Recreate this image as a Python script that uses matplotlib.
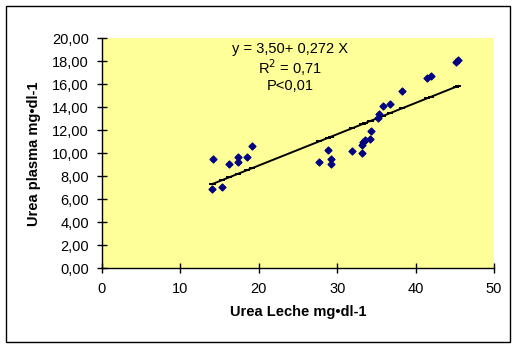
import numpy as np
import matplotlib
matplotlib.use("Agg")
import matplotlib.pyplot as plt
from matplotlib.patches import Rectangle

plt.rcParams.update({
    "font.family": ["Liberation Sans", "DejaVu Sans"],
    "font.size": 10,
})

# data
urea_leche = [14.14, 14.05, 15.32, 16.22, 17.32, 17.32, 18.51, 19.15,
              27.72, 28.87, 29.26, 29.26, 31.85, 33.2, 33.2, 33.3, 33.6,
              34.18, 34.26, 35.24, 35.33, 35.87, 36.69, 38.22, 41.48,
              41.91, 45.13, 45.43]
urea_plasma = [9.50, 6.87, 7.04, 9.10, 9.68, 9.27, 9.68, 10.63,
               9.27, 10.31, 9.48, 9.07, 10.23, 10.05, 10.72, 11.01, 11.15,
               11.21, 11.97, 13.10, 13.39, 14.11, 14.29, 15.42, 16.57,
               16.75, 17.94, 18.09]
intercept, slope = 3.50, 0.272
annot = "y = 3,50+ 0,272 X\nR$^2$ = 0,71\nP<0,01"

fig = plt.figure(figsize=(5.18, 3.5), dpi=100)
ax = fig.add_axes([0.1969, 0.2334, 0.7568, 0.6572])
ax.set_facecolor("#FFFF99")

ax.scatter(urea_leche, urea_plasma, marker="D", s=12, color="#000080",
           zorder=3)
xs = np.sort(urea_leche)
ax.plot(xs, intercept + slope * xs, "-", color="black", lw=1.4,
        marker="_", ms=5, mew=1.4, zorder=2)

ax.set_xlim(0, 50)
ax.set_ylim(0, 20)
ax.set_xticks(range(0, 51, 10))
ax.set_yticks(range(0, 21, 2))
ax.set_yticklabels([f"{v},00" for v in range(0, 21, 2)])
ax.tick_params(direction="inout", length=7, width=1, pad=6, labelsize=10.5)
for s in ("top", "right"):
    ax.spines[s].set_visible(False)
ax.spines["left"].set_linewidth(1)
ax.spines["bottom"].set_linewidth(1)

ax.text(0.48, 0.985, annot, transform=ax.transAxes, ha="center", va="top",
        fontsize=10.5, linespacing=1.1)

ax.set_xlabel("Urea Leche mg\u2022dl-1", fontweight="bold", fontsize=10.5,
              labelpad=7)
ax.set_ylabel("Urea plasma mg\u2022dl-1", fontweight="bold", fontsize=10.5,
              labelpad=8)

fig.patches.append(Rectangle((6 / 518, (350 - 342) / 350), 504 / 518,
                             336 / 350, transform=fig.transFigure,
                             fill=False, ec="black", lw=1))

fig.savefig("out.png", dpi=100)
